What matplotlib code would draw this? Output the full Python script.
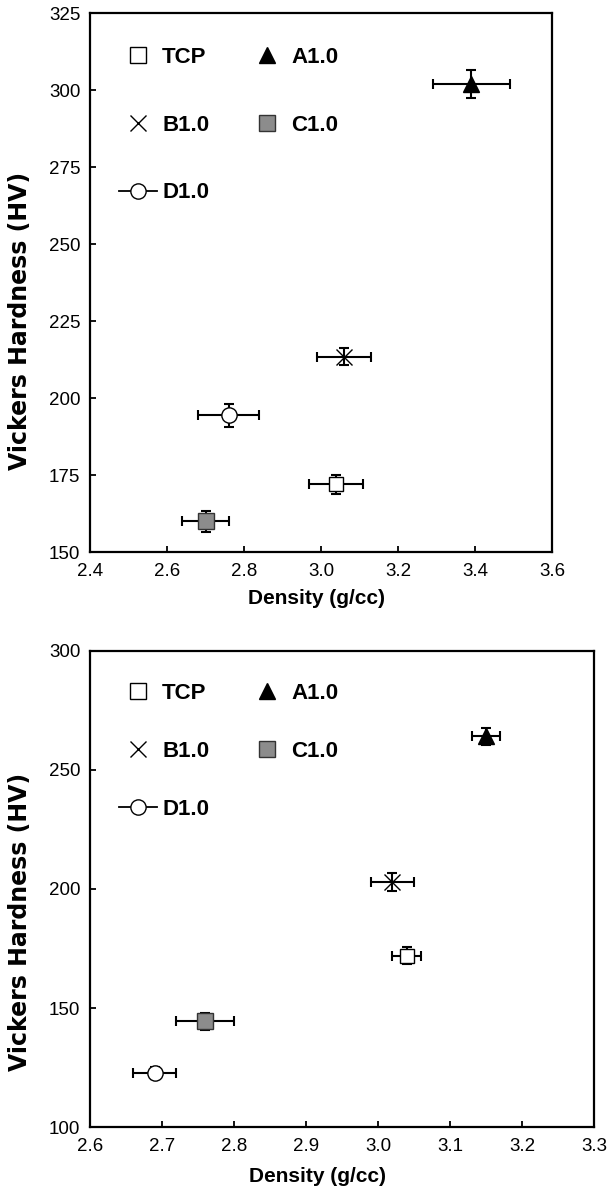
#!/usr/bin/env python3
# Density vs Vickers hardness, two panels

import numpy as np
import matplotlib
matplotlib.use("Agg")
import matplotlib.pyplot as plt
from matplotlib.lines import Line2D

plt.rcParams["font.family"] = ["Liberation Sans", "DejaVu Sans"]

# ---- data ----
labels = ["TCP", "A1.0", "B1.0", "C1.0", "D1.0"]

# top panel
topDensity = [3.04, 3.39, 3.06, 2.70, 2.76]
topDensityErr = [0.07, 0.10, 0.07, 0.06, 0.08]
topHardness = [172, 302, 213.5, 160, 194.5]
topHardnessErr = [3.0, 4.5, 2.8, 3.3, 3.7]

# bottom panel
botDensity = [3.04, 3.15, 3.02, 2.76, 2.69]
botDensityErr = [0.02, 0.02, 0.03, 0.04, 0.03]
botHardness = [172, 264, 203, 144.5, 122.8]
botHardnessErr = [3.5, 3.5, 3.7, 3.6, 2.5]

topXTicks = [2.4, 2.6, 2.8, 3.0, 3.2, 3.4, 3.6]
topYTicks = [150, 175, 200, 225, 250, 275, 300, 325]
botXTicks = [2.6, 2.7, 2.8, 2.9, 3.0, 3.1, 3.2, 3.3]
botYTicks = [100, 150, 200, 250, 300]

# ---- marker styles ----
styles = {
    "TCP": dict(marker="s", mfc="white", mec="black", ms=10, mew=1.0),
    "A1.0": dict(marker="^", mfc="black", mec="black", ms=12, mew=1.0),
    "B1.0": dict(marker="x", mfc="black", mec="black", ms=11, mew=1.0),
    "C1.0": dict(marker="s", mfc="#8c8c8c", mec="#333333", ms=11, mew=1.0),
    "D1.0": dict(marker="o", mfc="white", mec="black", ms=11, mew=1.0),
}


def drawPanel(ax, xs, xerrs, ys, yerrs, xticks, yticks, rowGap, legDy, xlabX, xlabY, ylabX):
    for lab, x, xe, y, ye in zip(labels, xs, xerrs, ys, yerrs):
        ax.errorbar(x, y, xerr=xe, yerr=ye, fmt="none", ecolor="black",
                    elinewidth=1.5, capsize=3.5, capthick=1.5, zorder=2)
        ax.plot(x, y, linestyle="none", zorder=3, **styles[lab])

    # legend: markers only, except D1.0 with a line through it
    handles = []
    for lab in labels:
        ls = "-" if lab == "D1.0" else "none"
        st = dict(styles[lab])
        st["ms"] = 11 if lab != "A1.0" else 12
        handles.append(Line2D([], [], color="black", linestyle=ls, lw=1.3, **st))
    order = [0, 2, 4, 1, 3]
    w = ax.bbox.width
    h = ax.bbox.height
    ax.legend([handles[i] for i in order], [labels[i] for i in order],
              ncol=2, loc="upper left", frameon=False,
              bbox_to_anchor=(20.0 / w, 1 - legDy / h),
              prop=dict(weight="bold", size=16),
              handlelength=1.7, handletextpad=0.25, columnspacing=1.75,
              labelspacing=rowGap, borderaxespad=0.0)

    ax.set_xlim(xticks[0], xticks[-1])
    ax.set_ylim(yticks[0], yticks[-1])
    ax.set_xticks(xticks)
    ax.set_xticklabels([f"{t:.1f}" for t in xticks])
    ax.set_yticks(yticks)
    ax.tick_params(direction="in", length=4.5, width=1.3, labelsize=13.5,
                   top=False, right=False)
    ax.tick_params(axis="x", pad=8)
    ax.tick_params(axis="y", pad=7)
    for sp in ax.spines.values():
        sp.set_linewidth(1.6)
    ax.set_xlabel("Density (g/cc)", fontsize=15, fontweight="bold", va="center")
    ax.set_ylabel("Vickers Hardness (HV)", fontsize=17, fontweight="bold",
                  va="center", family="DejaVu Sans")
    ax.xaxis.set_label_coords(xlabX, -xlabY / h)
    ax.yaxis.set_label_coords(ylabX, 0.43)


fig = plt.figure(figsize=(6.09, 11.92), dpi=100)

axTop = fig.add_axes([0.1478, 0.5367, 0.7586, 0.4522])
drawPanel(axTop, topDensity, topDensityErr, topHardness, topHardnessErr,
          topXTicks, topYTicks, 2.1, 25.0, 0.49, 46.0, -0.1515)

axBot = fig.add_axes([0.1478, 0.0543, 0.8276, 0.3998])
drawPanel(axBot, botDensity, botDensityErr, botHardness, botHardnessErr,
          botXTicks, botYTicks, 1.68, 23.0, 0.451, 49.0, -0.139)

fig.savefig("out.png", dpi=100)
